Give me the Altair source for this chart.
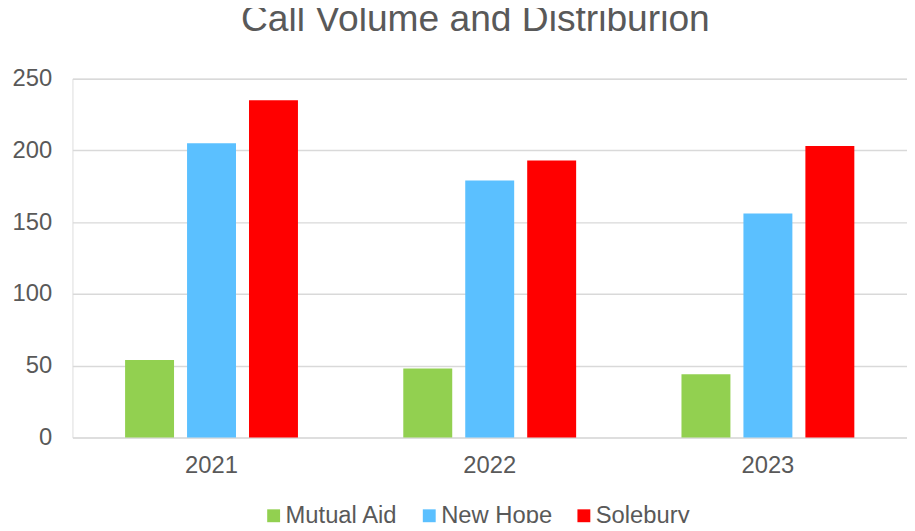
import altair as alt
import pandas as pd

years = ["2021", "2022", "2023"]
series = ["Mutual Aid", "New Hope", "Solebury"]
mutual_aid = [54, 48, 44]
new_hope = [205, 179, 156]
solebury = [235, 193, 203]
colors = ["#92D050", "#5BC0FF", "#FF0000"]
y_ticks = [0, 50, 100, 150, 200, 250]

rows = []
for name, vals in zip(series, [mutual_aid, new_hope, solebury]):
    for yr, v in zip(years, vals):
        rows.append({"Year": yr, "Series": name, "Calls": v})
df = pd.DataFrame(rows)

FONT = "Liberation Sans"
GRAY = "#595959"

chart = alt.Chart(df).mark_bar().encode(
    x=alt.X(
        "Year:N", sort=years,
        scale=alt.Scale(paddingInner=0, paddingOuter=0),
        axis=alt.Axis(title=None, labelAngle=0, labelFontSize=24, labelColor=GRAY,
                      labelFont=FONT, labelPadding=16, ticks=False, domain=False, grid=False),
    ),
    xOffset=alt.XOffset("Series:N", sort=series,
                        scale=alt.Scale(paddingInner=0.21, paddingOuter=0.85)),
    y=alt.Y(
        "Calls:Q", scale=alt.Scale(domain=[0, 250]),
        axis=alt.Axis(values=y_ticks, title=None, labelFontSize=24, labelColor=GRAY,
                      labelFont=FONT, labelPadding=21, ticks=False, domain=False,
                      grid=True, gridColor="#D9D9D9", gridWidth=1.5, gridOpacity=1),
    ),
    color=alt.Color(
        "Series:N", sort=series,
        scale=alt.Scale(domain=series, range=colors),
        legend=alt.Legend(title=None, orient="none", direction="horizontal",
                          legendX=191, legendY=429, padding=0,
                          symbolType="square", symbolSize=169, symbolStrokeWidth=0,
                          labelFontSize=24, labelFont=FONT, labelColor=GRAY,
                          labelOffset=0, columnPadding=19),
    ),
).properties(
    width=842,
    height=362,
    title=alt.TitleParams("Call Volume and Distriburion", fontSize=37.5, font=FONT,
                          color=GRAY, fontWeight="normal", anchor="middle",
                          dx=-14.5, dy=6, offset=5, baseline="alphabetic"),
    autosize=alt.AutoSizeParams(type="none"),
    padding={"left": 65, "top": 69, "right": 0, "bottom": 84},
).configure_view(strokeWidth=0, stroke="transparent").configure(background="white")

chart.save("out.html", embed_options={"renderer": "svg", "actions": False})
